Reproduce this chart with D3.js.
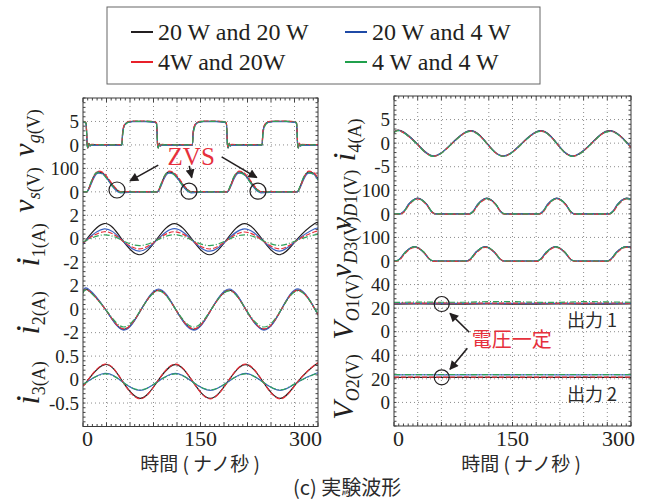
<!DOCTYPE html>
<html>
<head>
<meta charset="utf-8">
<script src="https://cdn.jsdelivr.net/npm/d3@7"></script>
<style>
  body { margin: 0; background: #fff; }
</style>
</head>
<body>
<div id="chart"></div>
<script>
// series (legend order)
const seriesNames = ["20 W and 20 W", "20 W and 4 W", "4W and 20W", "4 W and 4 W"];
const timeDomain = [0, 300];
const xTicks = [0, 150, 300];

// gate voltage v_g (V)
const vgTime = [0, 1.7, 3.9, 4.7, 5.3, 6.2, 7.5, 8.9, 10.7, 30, 49.6, 50.6, 52.1, 54.1, 57.6, 63.6, 80,
  91.6, 93.8, 94.6, 95.2, 96.1, 97.4, 98.8, 100.6, 120, 139.6, 140.6, 142.1, 144.1, 147.6, 153.6, 170,
  180.8, 183.0, 183.8, 184.4, 185.3, 186.6, 188.0, 189.8, 210, 228.6, 229.6, 231.1, 233.1, 236.6, 242.6, 260,
  270.4, 272.6, 273.4, 274.0, 274.9, 276.2, 277.6, 279.4, 300];
const vgValues = [
  [4.95, 4.85, 4.6, 2.4, 0.1, -0.7, 0.35, -0.2, 0.05, 0, 0, 2.6, 3.9, 4.5, 4.85, 5.0, 5.0,
   4.85, 4.6, 2.4, 0.1, -0.7, 0.35, -0.2, 0.05, 0, 0, 2.6, 3.9, 4.5, 4.85, 5.0, 5.0,
   4.85, 4.6, 2.4, 0.1, -0.7, 0.35, -0.2, 0.05, 0, 0, 2.6, 3.9, 4.5, 4.85, 5.0, 5.0,
   4.85, 4.6, 2.4, 0.1, -0.7, 0.35, -0.2, 0.05, 0],
  [4.9, 4.8, 4.55, 2.2, 0.0, -0.5, 0.25, -0.25, -0.05, -0.1, -0.1, 2.4, 3.8, 4.45, 4.8, 4.95, 4.95,
   4.8, 4.55, 2.2, 0.0, -0.5, 0.25, -0.25, -0.05, -0.1, -0.1, 2.4, 3.8, 4.45, 4.8, 4.95, 4.95,
   4.8, 4.55, 2.2, 0.0, -0.5, 0.25, -0.25, -0.05, -0.1, -0.1, 2.4, 3.8, 4.45, 4.8, 4.95, 4.95,
   4.8, 4.55, 2.2, 0.0, -0.5, 0.25, -0.25, -0.05, -0.1],
  [5.05, 4.95, 4.7, 2.6, 0.15, -0.6, 0.4, -0.1, 0.1, 0.05, 0.05, 2.7, 4.0, 4.6, 4.95, 5.1, 5.1,
   4.95, 4.7, 2.6, 0.15, -0.6, 0.4, -0.1, 0.1, 0.05, 0.05, 2.7, 4.0, 4.6, 4.95, 5.1, 5.1,
   4.95, 4.7, 2.6, 0.15, -0.6, 0.4, -0.1, 0.1, 0.05, 0.05, 2.7, 4.0, 4.6, 4.95, 5.1, 5.1,
   4.95, 4.7, 2.6, 0.15, -0.6, 0.4, -0.1, 0.1, 0.05],
  [5.0, 4.9, 4.65, 2.5, 0.1, -0.65, 0.3, -0.15, 0.0, 0.0, 0.0, 2.0, 3.5, 4.3, 4.8, 5.0, 5.0,
   4.9, 4.65, 2.5, 0.1, -0.65, 0.3, -0.15, 0.0, 0.0, 0.0, 2.0, 3.5, 4.3, 4.8, 5.0, 5.0,
   4.9, 4.65, 2.5, 0.1, -0.65, 0.3, -0.15, 0.0, 0.0, 0.0, 2.0, 3.5, 4.3, 4.8, 5.0, 5.0,
   4.9, 4.65, 2.5, 0.1, -0.65, 0.3, -0.15, 0.0, 0.0]
];
const vgTicks = [5, 0];

// switch voltage v_s (V)
const vsTime = [0, 4.7, 8.7, 12.7, 16.7, 19.7, 25.7, 31.7, 37.7, 43.7, 47.7, 70,
  94.9, 98.9, 102.9, 106.9, 109.9, 115.9, 121.9, 127.9, 133.9, 137.9, 160,
  184.2, 188.2, 192.2, 196.2, 199.2, 205.2, 211.2, 217.2, 223.2, 227.2, 250,
  273.5, 277.5, 281.5, 285.5, 288.5, 294.5, 300];
const vsValues = [
  [0, 0, 25, 58, 80, 85, 78, 55, 28, 7, 0, 0, 0, 25, 58, 80, 85, 78, 55, 28, 7, 0, 0,
   0, 25, 58, 80, 85, 78, 55, 28, 7, 0, 0, 0, 25, 58, 80, 85, 78, 56],
  [-1, 0, 20, 52, 75, 80, 76, 52, 22, 2, -4, 0, 0, 20, 52, 75, 80, 76, 52, 22, 2, -4, 0,
   0, 20, 52, 75, 80, 76, 52, 22, 2, -4, 0, 0, 20, 52, 75, 80, 76, 50],
  [0, 0, 22, 56, 82, 88, 82, 60, 32, 9, 1, 1, 0, 22, 56, 82, 88, 82, 60, 32, 9, 1, 1,
   0, 22, 56, 82, 88, 82, 60, 32, 9, 1, 1, 0, 22, 56, 82, 88, 82, 60],
  [0, 0, 28, 62, 80, 82, 74, 50, 24, 5, -1, 0, 0, 28, 62, 80, 82, 74, 50, 24, 5, -1, 0,
   0, 28, 62, 80, 82, 74, 50, 24, 5, -1, 0, 0, 28, 62, 80, 82, 74, 52]
];
const vsTicks = [100, 0];

// i_1 (A)
const i1Time = [0, 4.7, 27.1, 49.5, 71.9, 94.3, 116.7, 139.1, 161.5, 183.9, 206.3, 228.7, 251.1, 273.5, 295.9, 300];
const i1Values = [
  [-0.45, -0.03, 1.3, -0.03, -1.36, -0.03, 1.3, -0.03, -1.36, -0.03, 1.3, -0.03, -1.36, -0.03, 1.3, 1.25],
  [-0.4, -0.1, 0.85, -0.1, -1.05, -0.1, 0.86, -0.1, -1.06, -0.1, 0.84, -0.1, -1.05, -0.1, 0.85, 0.81],
  [-0.36, -0.12, 0.6, -0.12, -0.86, -0.12, 0.6, -0.12, -0.87, -0.12, 0.58, -0.12, -0.86, -0.12, 0.6, 0.57],
  [-0.27, -0.12, 0.34, -0.12, -0.58, -0.12, 0.35, -0.12, -0.58, -0.12, 0.34, -0.12, -0.57, -0.12, 0.34, 0.32]
];
const i1Ticks = [2, 0, -2];

// i_2 (A)
const i2Time = [0, 6.8, 29, 52, 74, 96.5, 118.5, 141.5, 163.5, 186.5, 208, 231, 253, 275.5, 296.5, 300];
const i2Values = [
  [1.4, 1.62, -0.05, -1.72, -0.05, 1.62, -0.05, -1.72, -0.05, 1.62, -0.05, -1.72, -0.05, 1.62, -0.05, -0.42],
  [1.45, 1.72, -0.05, -1.78, -0.05, 1.72, -0.05, -1.78, -0.05, 1.72, -0.05, -1.78, -0.05, 1.72, -0.05, -0.45],
  [1.38, 1.6, -0.05, -1.68, -0.05, 1.6, -0.05, -1.68, -0.05, 1.6, -0.05, -1.68, -0.05, 1.6, -0.05, -0.42],
  [1.35, 1.56, -0.03, -1.52, -0.03, 1.56, -0.03, -1.52, -0.03, 1.56, -0.03, -1.52, -0.03, 1.56, -0.03, -0.4]
];
const i2Ticks = [2, 0, -2];

// i_3 (A)
const i3Time = [0, 5, 28, 50.5, 73, 95, 118, 140, 162.5, 185, 207.5, 229.5, 252, 274.5, 297, 300];
const i3Values = [
  [-0.12, -0.04, 0.32, -0.04, -0.4, -0.04, 0.32, -0.04, -0.4, -0.04, 0.32, -0.04, -0.4, -0.04, 0.32, 0.31],
  [-0.08, -0.05, 0.13, -0.05, -0.23, -0.05, 0.13, -0.05, -0.23, -0.05, 0.13, -0.05, -0.23, -0.05, 0.13, 0.125],
  [-0.12, -0.04, 0.33, -0.04, -0.41, -0.04, 0.33, -0.04, -0.41, -0.04, 0.33, -0.04, -0.41, -0.04, 0.33, 0.32],
  [-0.09, -0.05, 0.12, -0.05, -0.22, -0.05, 0.12, -0.05, -0.22, -0.05, 0.12, -0.05, -0.22, -0.05, 0.12, 0.115]
];
const i3Ticks = [0.5, 0, -0.5];

// i_4 (A)
const i4Time = [0, 8.5, 28.5, 49.8, 73.5, 97, 117.5, 138.4, 162, 185.7, 206, 226.2, 250, 274.3, 295.5, 300];
const i4Values = [
  [2.35, 2.65, 0, -2.75, 0, 2.65, 0, -2.75, 0, 2.65, 0, -2.75, 0, 2.65, 0, -0.75],
  [2.3, 2.6, -0.05, -2.7, -0.05, 2.6, -0.05, -2.7, -0.05, 2.6, -0.05, -2.7, -0.05, 2.6, -0.05, -0.8],
  [2.3, 2.55, -0.1, -2.75, -0.1, 2.55, -0.1, -2.75, -0.1, 2.55, -0.1, -2.75, -0.1, 2.55, -0.1, -0.85],
  [2.25, 2.5, -0.1, -2.8, -0.1, 2.5, -0.1, -2.8, -0.1, 2.5, -0.1, -2.8, -0.1, 2.5, -0.1, -0.85]
];
const i4Ticks = [5, 0, -5];

// v_D1 (V)
const vD1Time = [0, 7.5, 12.5, 18.5, 30, 41.5, 47.5, 52.5, 70, 95, 100, 106, 117.5, 129, 135, 140, 160,
  183.5, 188.5, 194.5, 206, 217.5, 223.5, 228.5, 250, 272, 277, 283, 294.5, 300];
const vD1Values = [
  [0, 0, 10, 40, 67, 40, 10, 0, 0, 0, 10, 40, 67, 40, 10, 0, 0, 0, 10, 40, 67, 40, 10, 0, 0, 0, 10, 40, 67, 62],
  [0, 0, 11, 41, 66, 39, 9, 0, 0, 0, 11, 41, 66, 39, 9, 0, 0, 0, 11, 41, 66, 39, 9, 0, 0, 0, 11, 41, 66, 61],
  [-1, -1, 7, 35, 63, 38, 9, -1, -1, -1, 7, 35, 63, 38, 9, -1, -1, -1, 7, 35, 63, 38, 9, -1, -1, -1, 7, 35, 63, 60],
  [0, 0, 9, 38, 64, 40, 11, 0, 0, 0, 9, 38, 64, 40, 11, 0, 0, 0, 9, 38, 64, 40, 11, 0, 0, 0, 9, 38, 64, 61]
];
const vD1Ticks = [100, 0];

// v_D3 (V)
const vD3Time = [0, 2, 7.5, 14, 26, 38, 44.5, 50, 70, 91.5, 97, 103.5, 115.5, 127.5, 134, 139.5, 160,
  180.5, 186, 192.5, 204.5, 216.5, 223, 228.5, 250, 269.5, 275, 281.5, 293.5, 300];
const vD3Values = [
  [0, 0, 9, 36, 61, 36, 9, 0, 0, 0, 9, 36, 61, 36, 9, 0, 0, 0, 9, 36, 61, 36, 9, 0, 0, 0, 9, 36, 61, 57],
  [0, 0, 10, 37, 60, 35, 8, 0, 0, 0, 10, 37, 60, 35, 8, 0, 0, 0, 10, 37, 60, 35, 8, 0, 0, 0, 10, 37, 60, 56],
  [-2, -2, 6, 32, 58, 36, 10, -2, -2, -2, 6, 32, 58, 36, 10, -2, -2, -2, 6, 32, 58, 36, 10, -2, -2, -2, 6, 32, 58, 55],
  [0, 0, 9, 36, 60, 37, 10, 0, 0, 0, 9, 36, 60, 37, 10, 0, 0, 0, 9, 36, 60, 37, 10, 0, 0, 0, 9, 36, 60, 56]
];
const vD3Ticks = [100, 0];

// output voltages V_O1, V_O2 (V)
const voTime = [0, 30, 60, 90, 120, 150, 180, 210, 240, 270, 300];
const vo1Values = [
  [23.4, 23.5, 23.4, 23.4, 23.5, 23.4, 23.4, 23.5, 23.4, 23.4, 23.5],
  [24.1, 24.0, 24.1, 24.0, 24.1, 24.0, 24.1, 24.0, 24.1, 24.0, 24.1],
  [24.4, 24.3, 24.4, 24.3, 24.2, 24.3, 24.4, 24.2, 24.3, 24.4, 24.3],
  [24.9, 25.1, 25.0, 25.0, 25.6, 25.5, 25.0, 24.9, 25.6, 25.3, 25.0]
];
const vo2Values = [
  [21.2, 21.3, 21.2, 21.2, 21.3, 21.2, 21.2, 21.3, 21.2, 21.2, 21.3],
  [23.4, 23.5, 23.4, 23.4, 23.5, 23.4, 23.5, 23.4, 23.4, 23.5, 23.4],
  [21.5, 21.4, 21.5, 21.6, 21.4, 21.5, 21.5, 21.4, 21.6, 21.5, 21.4],
  [23.7, 23.6, 23.7, 23.7, 23.6, 23.7, 23.6, 23.7, 23.7, 23.6, 23.7]
];
const voTicks = [40, 20, 0];

// annotation anchors (time ns, value)
const zvsCircles = [[43.4, 8], [135.3, 3], [223.4, 3]];
const zvsArrows = [[[96.1, 114], [60, 47]], [[135.7, 111], [138.8, 61]], [[177, 149], [221.8, 61]]];

// ---------------------------------------------------------------
const W = 651, H = 501;
const DIVS = 14;
const serif = "'Liberation Serif', 'Times New Roman', serif";
const cjk = "'Noto Sans CJK JP', 'Noto Sans', sans-serif";
const colors = ["#231f20", "#3d63c2", "#e8303a", "#2fa35b"];
const legendColors = ["#231f20", "#1f4aa6", "#e8202a", "#20a04c"];
const dashes = [null, null, "5,2", "6,2,1,2"];

const svg = d3.select("#chart").append("svg")
    .attr("width", W)
    .attr("height", H)
    .style("font-family", serif);

svg.append("defs").append("marker")
    .attr("id", "arrow")
    .attr("viewBox", "0 0 10 10")
    .attr("refX", 9).attr("refY", 5)
    .attr("markerUnits", "userSpaceOnUse")
    .attr("markerWidth", 11).attr("markerHeight", 9)
    .attr("orient", "auto")
    .append("path")
    .attr("d", "M0,0 L10,5 L0,10 z")
    .attr("fill", "#231f20");

const panels = {
    left: { x0: 83, x1: 318, y0: 98, y1: 426.5 },
    right: { x0: 394, x1: 631, y0: 96, y1: 426 }
};

Object.entries(panels).forEach(([key, p]) => {
    p.x = d3.scaleLinear().domain(timeDomain).range([p.x0, p.x1]);
    p.div = d3.scaleLinear().domain([0, DIVS]).range([p.y0, p.y1]);
    p.g = svg.append("g");

    svg.select("defs").append("clipPath").attr("id", "clip-" + key)
        .append("rect")
        .attr("x", p.x0).attr("y", p.y0)
        .attr("width", p.x1 - p.x0).attr("height", p.y1 - p.y0);

    // dotted grid, 10 x 14 divisions
    p.g.selectAll(".vgrid")
        .data(d3.range(1, 10))
        .enter().append("line")
        .attr("x1", d => p.x(d * 30)).attr("x2", d => p.x(d * 30))
        .attr("y1", p.y0).attr("y2", p.y1)
        .attr("stroke", "#8c8c8c").attr("stroke-width", 1)
        .attr("stroke-dasharray", "1,3");

    p.g.selectAll(".hgrid")
        .data(d3.range(1, DIVS))
        .enter().append("line")
        .attr("x1", p.x0).attr("x2", p.x1)
        .attr("y1", d => p.div(d)).attr("y2", d => p.div(d))
        .attr("stroke", "#8c8c8c").attr("stroke-width", 1)
        .attr("stroke-dasharray", "1,3");

    // minor ticks on the frame
    const tx = d3.range(0, 301, 6);
    p.g.selectAll(".tickb")
        .data(tx).enter().append("line")
        .attr("x1", d => p.x(d)).attr("x2", d => p.x(d))
        .attr("y1", p.y1).attr("y2", d => p.y1 - (d % 30 === 0 ? 4 : 2.5))
        .attr("stroke", "#444");
    p.g.selectAll(".tickt")
        .data(tx).enter().append("line")
        .attr("x1", d => p.x(d)).attr("x2", d => p.x(d))
        .attr("y1", p.y0).attr("y2", d => p.y0 + (d % 30 === 0 ? 4 : 2.5))
        .attr("stroke", "#444");
    const ty = d3.range(0, DIVS * 5 + 1).map(d => d / 5);
    p.g.selectAll(".tickl")
        .data(ty).enter().append("line")
        .attr("x1", p.x0).attr("x2", p.x0 + 2.5)
        .attr("y1", d => p.div(d)).attr("y2", d => p.div(d))
        .attr("stroke", "#444");
    p.g.selectAll(".tickr")
        .data(ty).enter().append("line")
        .attr("x1", p.x1).attr("x2", p.x1 - 2.5)
        .attr("y1", d => p.div(d)).attr("y2", d => p.div(d))
        .attr("stroke", "#444");

    p.traces = svg.append("g").attr("clip-path", `url(#clip-${key})`);

    // frame
    svg.append("rect")
        .attr("x", p.x0).attr("y", p.y0)
        .attr("width", p.x1 - p.x0).attr("height", p.y1 - p.y0)
        .attr("fill", "none").attr("stroke", "#3a3a3a").attr("stroke-width", 1);

    // x tick labels
    svg.selectAll(null)
        .data(xTicks).enter().append("text")
        .attr("x", d => p.x(d) + (d === 0 ? -1 : d === 300 ? 4 : 0))
        .attr("y", 446)
        .attr("text-anchor", d => d === 0 ? "start" : d === 300 ? "end" : "middle")
        .style("font-size", "22px")
        .attr("fill", "#231f20")
        .text(d => d);

    svg.append("text")
        .attr("x", key === "left" ? 200 : 521)
        .attr("y", 471)
        .attr("text-anchor", "middle")
        .style("font-family", cjk)
        .style("font-size", "19px")
        .attr("fill", "#2b2b2b")
        .text("時間 ( ナノ秒 )");
});

const signals = [
    { panel: "left", zeroDiv: 2, perDiv: 5, time: vgTime, values: vgValues, ticks: vgTicks, curve: d3.curveMonotoneX },
    { panel: "left", zeroDiv: 4, perDiv: 100, time: vsTime, values: vsValues, ticks: vsTicks, curve: d3.curveMonotoneX },
    { panel: "left", zeroDiv: 6, perDiv: 2, time: i1Time, values: i1Values, ticks: i1Ticks, curve: d3.curveNatural },
    { panel: "left", zeroDiv: 9, perDiv: 2, time: i2Time, values: i2Values, ticks: i2Ticks, curve: d3.curveNatural },
    { panel: "left", zeroDiv: 12, perDiv: 0.5, time: i3Time, values: i3Values, ticks: i3Ticks, curve: d3.curveNatural },
    { panel: "right", zeroDiv: 2, perDiv: 5, time: i4Time, values: i4Values, ticks: i4Ticks, curve: d3.curveNatural },
    { panel: "right", zeroDiv: 5, perDiv: 100, time: vD1Time, values: vD1Values, ticks: vD1Ticks, curve: d3.curveMonotoneX },
    { panel: "right", zeroDiv: 7, perDiv: 100, time: vD3Time, values: vD3Values, ticks: vD3Ticks, curve: d3.curveMonotoneX },
    { panel: "right", zeroDiv: 10, perDiv: 20, time: voTime, values: vo1Values, ticks: voTicks, curve: d3.curveLinear },
    { panel: "right", zeroDiv: 13, perDiv: 20, time: voTime, values: vo2Values, ticks: voTicks, curve: d3.curveLinear }
];

signals.forEach(s => {
    const p = panels[s.panel];
    s.y = d3.scaleLinear()
        .domain([s.perDiv * s.zeroDiv, s.perDiv * (s.zeroDiv - DIVS)])
        .range([p.y0, p.y1]);

    const line = d3.line()
        .x(d => p.x(d[0]))
        .y(d => s.y(d[1]))
        .curve(s.curve);

    s.values.forEach((vals, k) => {
        p.traces.append("path")
            .datum(s.time.map((t, j) => [t, vals[j]]))
            .attr("d", line)
            .attr("fill", "none")
            .attr("stroke", colors[k])
            .attr("stroke-width", 1.2)
            .attr("stroke-dasharray", dashes[k]);
    });

    svg.selectAll(null)
        .data(s.ticks).enter().append("text")
        .attr("x", p.x0 - 4)
        .attr("y", d => s.y(d))
        .attr("dy", "0.35em")
        .attr("text-anchor", "end")
        .style("font-size", "19px")
        .attr("fill", "#231f20")
        .text(d => String(d));
});

// rotated axis titles: main italic letter + subscript
const yTitles = [
    { x: 34, y: 133, main: "v", size: 30, sub: [["g", true], ["(V)", false]] },
    { x: 34, y: 190, main: "v", size: 30, sub: [["s", true], ["(V)", false]] },
    { x: 39, y: 245, main: "i", size: 34, sub: [["1", false], ["(A)", false]] },
    { x: 39, y: 313, main: "i", size: 34, sub: [["2", false], ["(A)", false]] },
    { x: 39, y: 383, main: "i", size: 34, sub: [["3", false], ["(A)", false]] },
    { x: 355, y: 140, main: "i", size: 32, sub: [["4", false], ["(A)", false]] },
    { x: 351, y: 200, main: "v", size: 30, sub: [["D", true], ["1", false], ["(V)", false]] },
    { x: 351, y: 247, main: "v", size: 30, sub: [["D", true], ["3", false], ["(V)", false]] },
    { x: 353, y: 307, main: "V", size: 30, sub: [["O", true], ["1", false], ["(V)", false]] },
    { x: 353, y: 387, main: "V", size: 30, sub: [["O", true], ["2", false], ["(V)", false]] }
];

yTitles.forEach(d => {
    const t = svg.append("text")
        .attr("transform", `translate(${d.x},${d.y}) rotate(-90)`)
        .attr("text-anchor", "middle")
        .attr("fill", "#231f20");
    t.append("tspan")
        .style("font-size", d.size + "px")
        .style("font-style", "italic")
        .text(d.main);
    d.sub.forEach((s, i) => {
        t.append("tspan")
            .attr("dy", i === 0 ? 6 : 0)
            .style("font-size", "18px")
            .style("font-style", s[1] ? "italic" : "normal")
            .text(s[0]);
    });
});

// ZVS annotation
const L = panels.left, vsSig = signals[1];
svg.selectAll(null)
    .data(zvsCircles).enter().append("circle")
    .attr("cx", d => L.x(d[0])).attr("cy", d => vsSig.y(d[1]))
    .attr("r", 8)
    .attr("fill", "none").attr("stroke", "#231f20").attr("stroke-width", 1.2);

svg.selectAll(null)
    .data(zvsArrows).enter().append("line")
    .attr("x1", d => L.x(d[0][0])).attr("y1", d => vsSig.y(d[0][1]))
    .attr("x2", d => L.x(d[1][0])).attr("y2", d => vsSig.y(d[1][1]))
    .attr("stroke", "#231f20").attr("stroke-width", 1.6)
    .attr("marker-end", "url(#arrow)");

svg.append("text")
    .attr("x", L.x(108)).attr("y", vsSig.y(115))
    .style("font-size", "25px")
    .attr("fill", "#e6303c")
    .text("ZVS");

// constant output voltage annotation
const R = panels.right, vo1 = signals[8], vo2 = signals[9];
svg.append("circle")
    .attr("cx", R.x(60.4)).attr("cy", vo1.y(23.5)).attr("r", 7.5)
    .attr("fill", "none").attr("stroke", "#231f20").attr("stroke-width", 1.2);
svg.append("circle")
    .attr("cx", R.x(60.4)).attr("cy", vo2.y(21.3)).attr("r", 7.5)
    .attr("fill", "none").attr("stroke", "#231f20").attr("stroke-width", 1.2);
svg.append("line")
    .attr("x1", R.x(95.3)).attr("y1", vo1.y(-0.5))
    .attr("x2", R.x(70.9)).attr("y2", vo1.y(15.6))
    .attr("stroke", "#231f20").attr("stroke-width", 1.6)
    .attr("marker-end", "url(#arrow)");
svg.append("line")
    .attr("x1", R.x(92.8)).attr("y1", vo2.y(45.9))
    .attr("x2", R.x(70.9)).attr("y2", vo2.y(28.1))
    .attr("stroke", "#231f20").attr("stroke-width", 1.6)
    .attr("marker-end", "url(#arrow)");

svg.append("text")
    .attr("x", R.x(98.4)).attr("y", vo1.y(-7))
    .attr("dy", "0.35em")
    .style("font-family", cjk).style("font-size", "20px")
    .attr("fill", "#e6303c")
    .text("電圧一定");
svg.append("text")
    .attr("x", R.x(219)).attr("y", vo1.y(9.1))
    .attr("dy", "0.35em")
    .style("font-family", cjk).style("font-size", "18px")
    .attr("fill", "#2b2b2b")
    .text("出力 1");
svg.append("text")
    .attr("x", R.x(219)).attr("y", vo2.y(6.3))
    .attr("dy", "0.35em")
    .style("font-family", cjk).style("font-size", "18px")
    .attr("fill", "#2b2b2b")
    .text("出力 2");

// legend
const legend = svg.append("g");
legend.append("rect")
    .attr("x", 107).attr("y", 7)
    .attr("width", 433).attr("height", 77)
    .attr("fill", "#fff").attr("stroke", "#666").attr("stroke-width", 1);

const legendPos = [[131, 32], [345, 32], [131, 62], [345, 62]];
seriesNames.forEach((name, k) => {
    const [lx, ly] = legendPos[k];
    legend.append("line")
        .attr("x1", lx).attr("x2", lx + 22)
        .attr("y1", ly).attr("y2", ly)
        .attr("stroke", legendColors[k]).attr("stroke-width", 2);
    legend.append("text")
        .attr("x", lx + 27).attr("y", ly)
        .attr("dy", "0.33em")
        .style("font-size", "24px")
        .attr("fill", "#231f20")
        .text(name);
});

// caption
svg.append("text")
    .attr("x", 293).attr("y", 495)
    .style("font-family", cjk).style("font-size", "20px")
    .attr("fill", "#2b2b2b")
    .text("(c) 実験波形");
</script>
</body>
</html>
